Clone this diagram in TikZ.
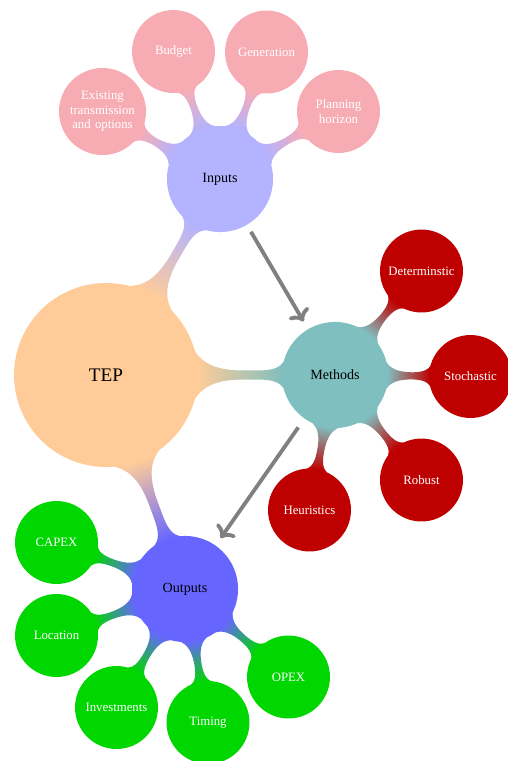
\documentclass[tikz,border=0pt]{standalone}
\usepackage{fontspec}
\setmainfont{Liberation Serif}
\usetikzlibrary{mindmap,arrows.meta}

\definecolor{tepcolor}{HTML}{FFCC99}
\definecolor{inputcolor}{HTML}{B3B3FF}
\definecolor{inleafcolor}{HTML}{F7ACB4}
\definecolor{methodcolor}{HTML}{80BFBF}
\definecolor{mleafcolor}{HTML}{BF0000}
\definecolor{outputcolor}{HTML}{6666FF}
\definecolor{oleafcolor}{HTML}{00D700}

\tikzset{
	rootconcept/.style={concept, concept color=tepcolor, minimum size=4cm, text width=3.5cm, font=\fontsize{12}{14}\selectfont},
	branchconcept/.style={concept, minimum size=2.29cm, text width=2cm, font=\fontsize{8.8}{10}\selectfont},
	leafconcept/.style={concept, minimum size=1.78cm, text width=1.5cm, text=white, font=\fontsize{8}{9}\selectfont},
	flowarrow/.style={->, line width=2.4pt, gray}
}

\begin{document}
\begin{tikzpicture}[mindmap, x=0.02198cm, y=-0.02198cm]
		%%%%% START %%%%%
		\useasboundingbox (0, 0) rectangle (507, 761);
		
		\node[rootconcept] (tep) at (106, 375) {TEP};
		
		\node[branchconcept, concept color=inputcolor] (inputs) at (220, 179) {Inputs};
		\node[branchconcept, concept color=methodcolor] (methods) at (335, 375) {Methods};
		\node[branchconcept, concept color=outputcolor] (outputs) at (185, 589) {Outputs};
		
		% inputs
		\node[leafconcept, concept color=inleafcolor, minimum size=1.87cm] (existing) at (102.5, 111.5) {Existing transmission and options};
		\node[leafconcept, concept color=inleafcolor] (budget) at (173.5, 51.5) {Budget};
		\node[leafconcept, concept color=inleafcolor] (generation) at (266.5, 52) {Generation};
		\node[leafconcept, concept color=inleafcolor] (planning) at (338.5, 111.5) {Planning horizon};
		
		% methods
		\node[leafconcept, concept color=mleafcolor] (determ) at (421.5, 271) {Determinstic};
		\node[leafconcept, concept color=mleafcolor] (stoch) at (470.5, 376.5) {Stochastic};
		\node[leafconcept, concept color=mleafcolor] (robust) at (421.5, 480) {Robust};
		\node[leafconcept, concept color=mleafcolor] (heur) at (309.5, 510) {Heuristics};
		
		% outputs
		\node[leafconcept, concept color=oleafcolor] (capex) at (56.5, 542.5) {CAPEX};
		\node[leafconcept, concept color=oleafcolor] (location) at (56.5, 635.5) {Location};
		\node[leafconcept, concept color=oleafcolor] (invest) at (116.5, 707.5) {Investments};
		\node[leafconcept, concept color=oleafcolor] (timing) at (208, 722.5) {Timing};
		\node[leafconcept, concept color=oleafcolor] (opex) at (288.5, 677) {OPEX};
		
		\path (tep) to[circle connection bar switch color=from (tepcolor) to (inputcolor)] (inputs);
		\path (tep) to[circle connection bar switch color=from (tepcolor) to (methodcolor)] (methods);
		\path (tep) to[circle connection bar switch color=from (tepcolor) to (outputcolor)] (outputs);
		
		\foreach \leaf in {existing, budget, generation, planning}
			\path (inputs) to[circle connection bar switch color=from (inputcolor) to (inleafcolor)] (\leaf);
		\foreach \leaf in {determ, stoch, robust, heur}
			\path (methods) to[circle connection bar switch color=from (methodcolor) to (mleafcolor)] (\leaf);
		\foreach \leaf in {capex, location, invest, timing, opex}
			\path (outputs) to[circle connection bar switch color=from (outputcolor) to (oleafcolor)] (\leaf);
		
		\draw[flowarrow, shorten <=0.2cm, shorten >=0.22cm] (inputs) -- (methods);
		\draw[flowarrow, shorten <=0.26cm, shorten >=0.22cm] (methods) -- (outputs);
		
		%%%%% END %%%%%
	\end{tikzpicture}
\end{document}
